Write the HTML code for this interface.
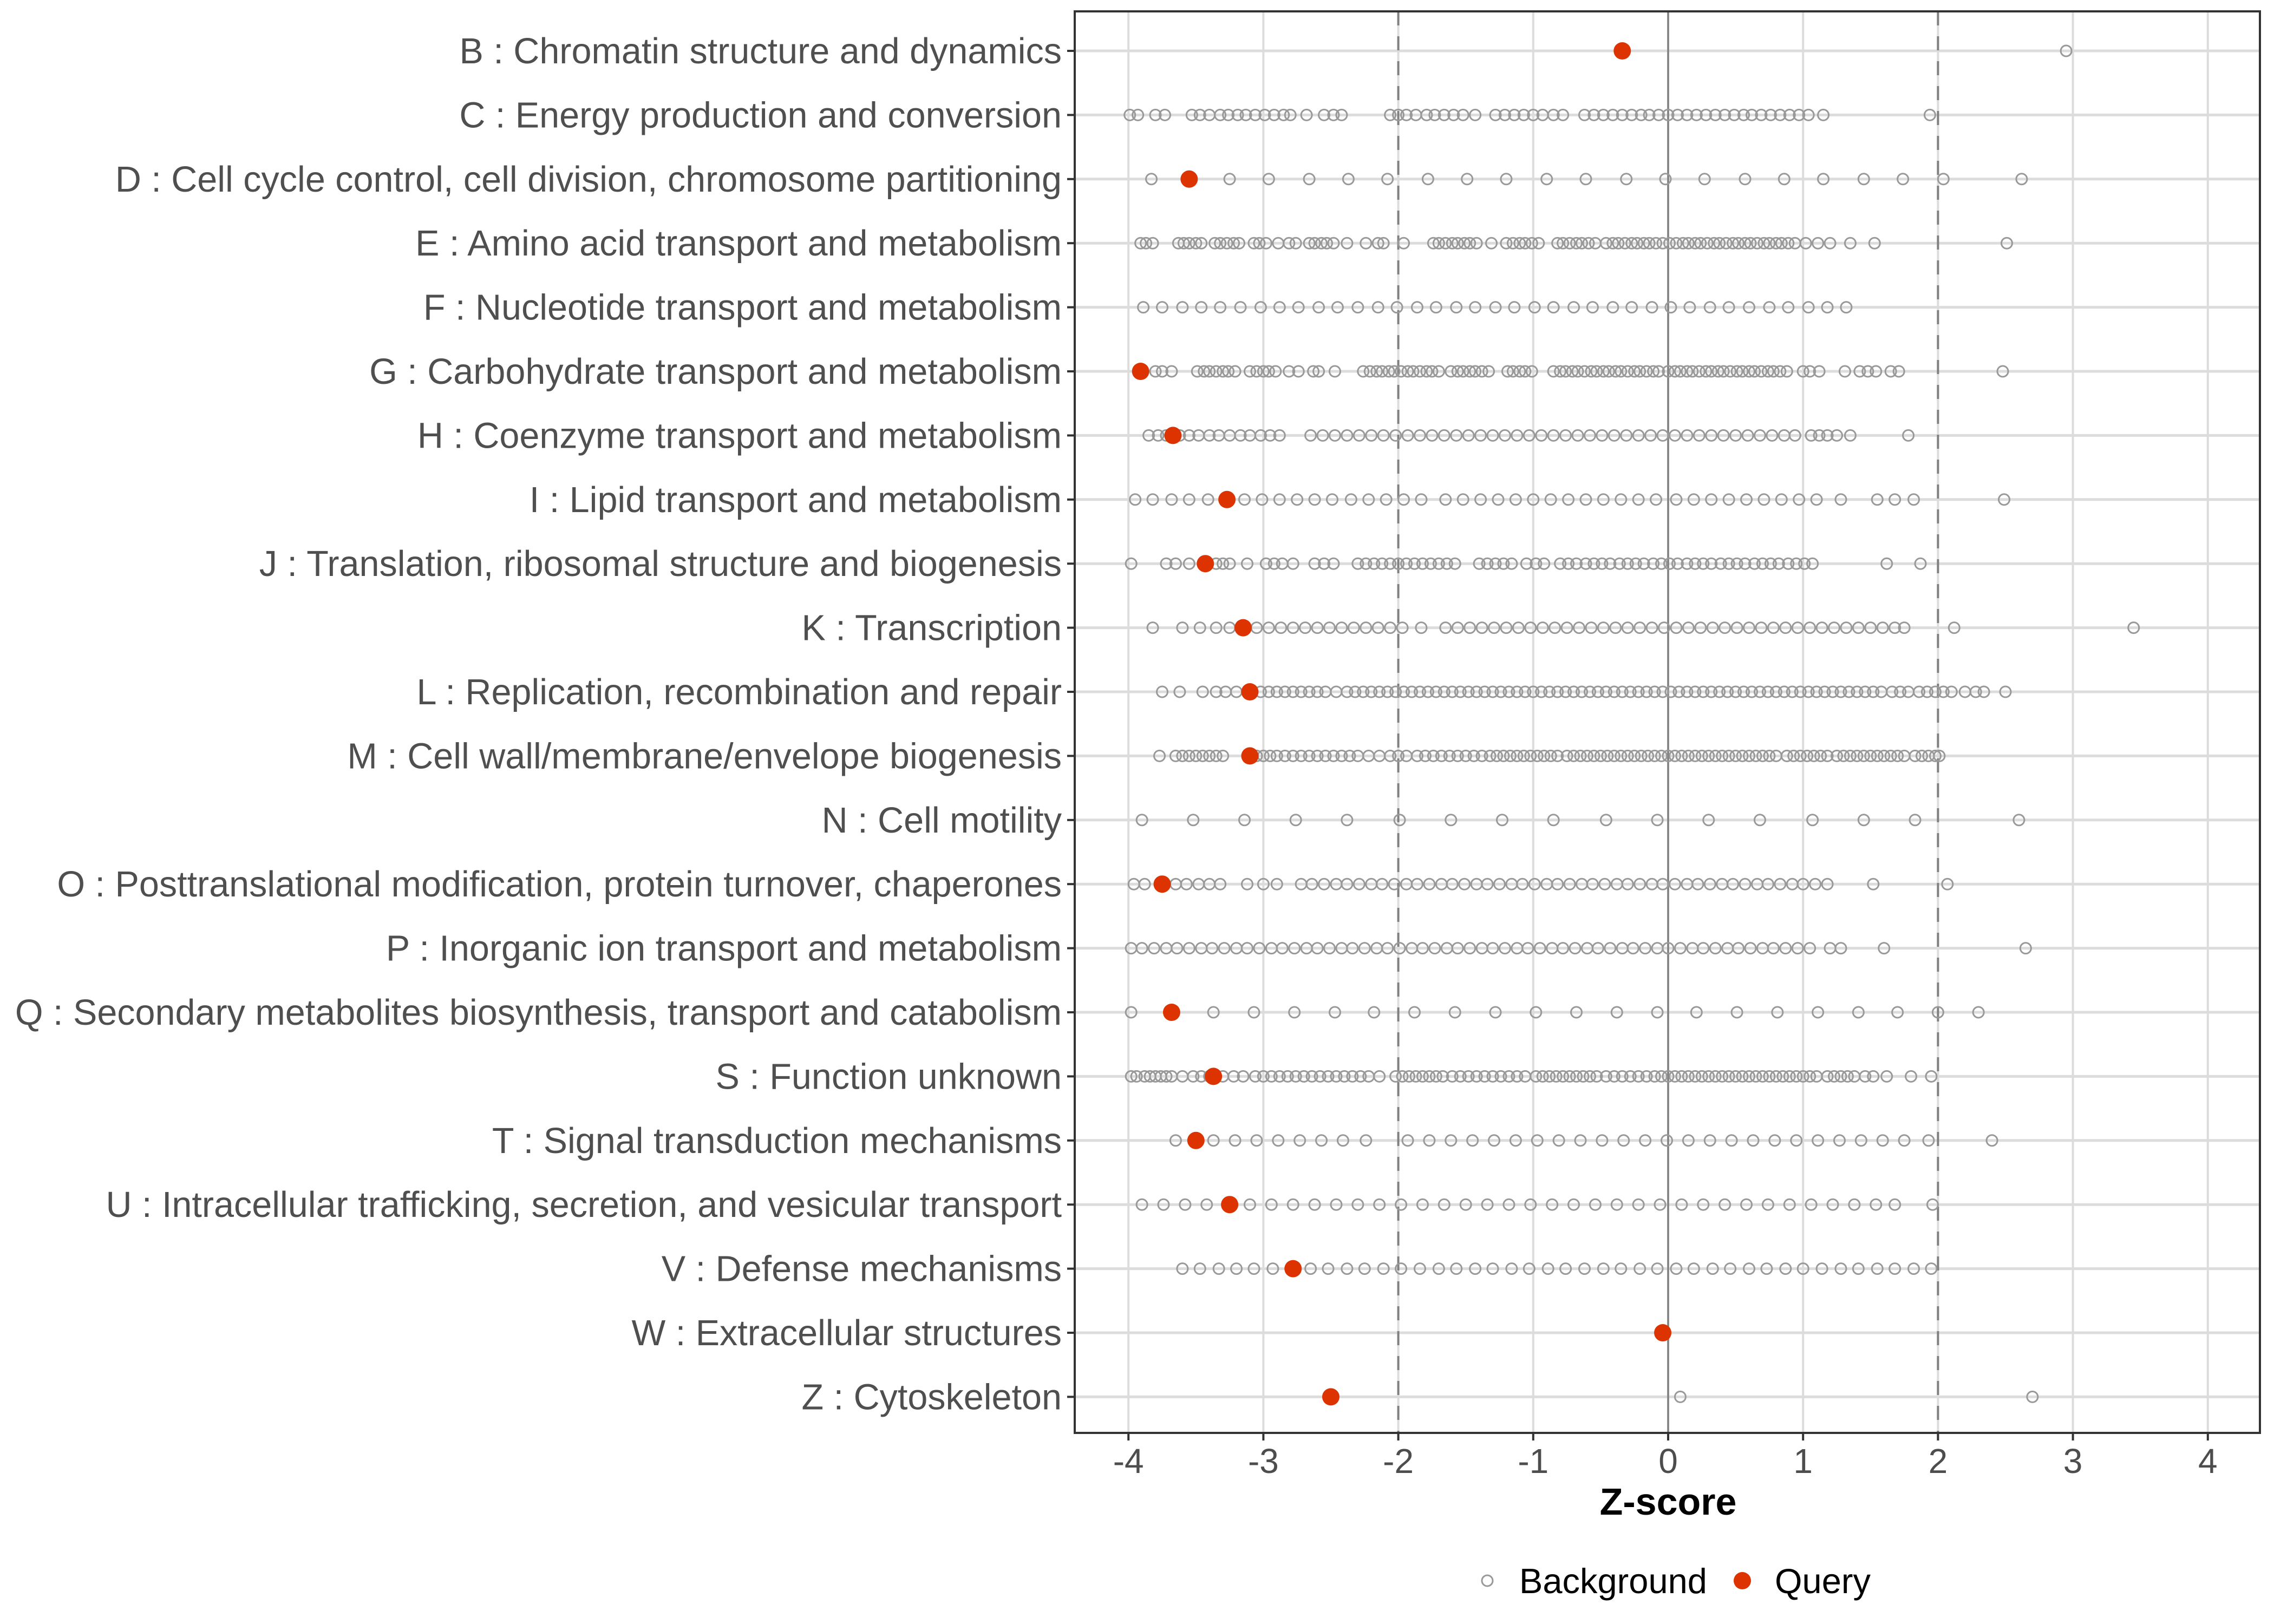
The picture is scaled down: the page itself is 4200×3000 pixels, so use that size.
<!DOCTYPE html>
<html><head><meta charset="utf-8"><style>
html,body{margin:0;padding:0;background:#fff;}
svg{display:block;font-family:"Liberation Sans",sans-serif;}
</style></head><body>
<svg id="chart" width="4200" height="3000" viewBox="0 0 4200 3000" xmlns="http://www.w3.org/2000/svg">
<rect x="0" y="0" width="4200" height="3000" fill="#fff"/>
<g id="grid"></g><g id="refs"></g><g id="pts"></g><g id="axes"></g>
<text x="3081" y="2798" text-anchor="middle" font-size="70" font-weight="bold" fill="#000">Z-score</text>
<g>
<circle cx="2747" cy="2920" r="10" fill="none" stroke="#999" stroke-width="3"/>
<text x="2806" y="2943" font-size="65" fill="#000">Background</text>
<circle cx="3218" cy="2920" r="16" fill="#dd3300"/>
<text x="3278" y="2943" font-size="65" fill="#000">Query</text>
</g>
</svg>
<script>
const categories = ["B : Chromatin structure and dynamics","C : Energy production and conversion","D : Cell cycle control, cell division, chromosome partitioning","E : Amino acid transport and metabolism","F : Nucleotide transport and metabolism","G : Carbohydrate transport and metabolism","H : Coenzyme transport and metabolism","I : Lipid transport and metabolism","J : Translation, ribosomal structure and biogenesis","K : Transcription","L : Replication, recombination and repair","M : Cell wall/membrane/envelope biogenesis","N : Cell motility","O : Posttranslational modification, protein turnover, chaperones","P : Inorganic ion transport and metabolism","Q : Secondary metabolites biosynthesis, transport and catabolism","S : Function unknown","T : Signal transduction mechanisms","U : Intracellular trafficking, secretion, and vesicular transport","V : Defense mechanisms","W : Extracellular structures","Z : Cytoskeleton"];
const xTicks = [-4,-3,-2,-1,0,1,2,3,4];
const xTickLabels = ["-4","-3","-2","-1","0","1","2","3","4"];
const queryCats = ["B","D","G","H","I","J","K","L","M","O","Q","S","T","U","V","W","Z"];
const queryValues = [-0.34,-3.55,-3.91,-3.67,-3.27,-3.43,-3.15,-3.10,-3.10,-3.75,-3.68,-3.37,-3.50,-3.25,-2.78,-0.04,-2.50];
const bgB = [2.95];
const bgC = [-3.99,-3.93,-3.80,-3.73,-3.53,-3.47,-3.40,-3.32,-3.26,-3.19,-3.13,-3.06,-2.99,-2.92,-2.85,-2.80,-2.68,-2.55,-2.48,-2.42,-2.06,-2.00,-1.94,-1.87,-1.79,-1.73,-1.66,-1.59,-1.52,-1.43,-1.28,-1.21,-1.14,-1.07,-1.00,-0.93,-0.85,-0.78,-0.62,-0.55,-0.48,-0.41,-0.34,-0.27,-0.20,-0.14,-0.07,0.00,0.07,0.14,0.21,0.28,0.35,0.42,0.49,0.56,0.62,0.69,0.76,0.83,0.90,0.97,1.04,1.15,1.94];
const bgD = [-3.83,-3.25,-2.96,-2.66,-2.37,-2.08,-1.78,-1.49,-1.20,-0.90,-0.61,-0.31,-0.02,0.27,0.57,0.86,1.15,1.45,1.74,2.04,2.62];
const bgE = [-3.91,-3.87,-3.82,-3.63,-3.59,-3.55,-3.50,-3.46,-3.36,-3.32,-3.27,-3.22,-3.18,-3.07,-3.03,-2.98,-2.89,-2.81,-2.76,-2.66,-2.62,-2.57,-2.53,-2.48,-2.38,-2.24,-2.15,-2.11,-1.96,-1.74,-1.70,-1.65,-1.60,-1.56,-1.51,-1.47,-1.42,-1.31,-1.20,-1.15,-1.10,-1.06,-1.01,-0.96,-0.82,-0.78,-0.73,-0.68,-0.64,-0.59,-0.54,-0.46,-0.41,-0.37,-0.32,-0.27,-0.23,-0.18,-0.14,-0.09,-0.04,0.01,0.06,0.11,0.15,0.20,0.24,0.29,0.34,0.38,0.43,0.48,0.52,0.57,0.61,0.66,0.71,0.75,0.80,0.84,0.89,0.94,1.02,1.11,1.20,1.35,1.53,2.51];
const bgF = [-3.89,-3.75,-3.60,-3.46,-3.32,-3.17,-3.02,-2.88,-2.74,-2.59,-2.45,-2.30,-2.15,-2.01,-1.86,-1.72,-1.57,-1.43,-1.28,-1.14,-0.99,-0.85,-0.70,-0.56,-0.41,-0.27,-0.12,0.02,0.16,0.31,0.45,0.60,0.75,0.89,1.04,1.18,1.32];
const bgG = [-3.80,-3.75,-3.68,-3.49,-3.44,-3.40,-3.35,-3.30,-3.26,-3.21,-3.10,-3.05,-3.00,-2.96,-2.91,-2.81,-2.74,-2.63,-2.59,-2.47,-2.26,-2.21,-2.16,-2.12,-2.07,-2.03,-1.98,-1.93,-1.89,-1.84,-1.79,-1.75,-1.70,-1.61,-1.56,-1.52,-1.47,-1.43,-1.38,-1.33,-1.19,-1.15,-1.10,-1.06,-1.01,-0.85,-0.80,-0.76,-0.71,-0.67,-0.62,-0.57,-0.53,-0.48,-0.44,-0.39,-0.35,-0.30,-0.25,-0.21,-0.16,-0.11,-0.07,0.00,0.05,0.09,0.14,0.18,0.23,0.28,0.32,0.37,0.41,0.46,0.51,0.55,0.60,0.64,0.69,0.74,0.78,0.83,0.88,1.00,1.05,1.12,1.31,1.42,1.48,1.54,1.65,1.71,2.48];
const bgH = [-3.85,-3.78,-3.72,-3.62,-3.55,-3.48,-3.40,-3.33,-3.25,-3.17,-3.10,-3.02,-2.95,-2.88,-2.65,-2.56,-2.47,-2.38,-2.29,-2.20,-2.11,-2.02,-1.93,-1.84,-1.75,-1.66,-1.57,-1.48,-1.39,-1.30,-1.21,-1.12,-1.03,-0.94,-0.85,-0.76,-0.67,-0.58,-0.49,-0.40,-0.31,-0.22,-0.13,-0.04,0.05,0.14,0.23,0.32,0.41,0.50,0.59,0.68,0.77,0.86,0.94,1.06,1.12,1.18,1.25,1.35,1.78];
const bgI = [-3.95,-3.82,-3.68,-3.55,-3.41,-3.14,-3.01,-2.88,-2.75,-2.62,-2.49,-2.35,-2.22,-2.09,-1.96,-1.83,-1.65,-1.52,-1.39,-1.26,-1.13,-1.00,-0.87,-0.74,-0.61,-0.48,-0.35,-0.22,-0.09,0.06,0.19,0.32,0.45,0.58,0.71,0.84,0.97,1.10,1.28,1.55,1.68,1.82,2.49];
const bgJ = [-3.98,-3.72,-3.65,-3.55,-3.35,-3.30,-3.25,-3.12,-2.98,-2.92,-2.86,-2.78,-2.62,-2.55,-2.48,-2.30,-2.24,-2.18,-2.12,-2.06,-2.00,-1.94,-1.88,-1.82,-1.76,-1.70,-1.64,-1.58,-1.40,-1.34,-1.28,-1.22,-1.16,-1.05,-0.98,-0.92,-0.80,-0.74,-0.68,-0.61,-0.55,-0.49,-0.43,-0.36,-0.30,-0.24,-0.18,-0.11,-0.05,0.01,0.07,0.14,0.20,0.26,0.32,0.39,0.45,0.51,0.57,0.64,0.70,0.76,0.82,0.89,0.95,1.01,1.07,1.62,1.87];
const bgK = [-3.82,-3.60,-3.47,-3.35,-3.25,-3.05,-2.96,-2.87,-2.78,-2.69,-2.60,-2.51,-2.42,-2.33,-2.24,-2.15,-2.06,-1.97,-1.83,-1.65,-1.56,-1.47,-1.38,-1.29,-1.20,-1.11,-1.02,-0.93,-0.84,-0.75,-0.66,-0.57,-0.48,-0.39,-0.30,-0.21,-0.12,-0.03,0.06,0.15,0.24,0.33,0.42,0.51,0.60,0.69,0.78,0.87,0.96,1.05,1.14,1.23,1.32,1.41,1.50,1.59,1.68,1.75,2.12,3.45];
const bgL = [-3.75,-3.62,-3.45,-3.35,-3.28,-3.20,-3.02,-2.96,-2.90,-2.84,-2.78,-2.72,-2.66,-2.60,-2.54,-2.46,-2.38,-2.32,-2.26,-2.20,-2.14,-2.08,-2.02,-1.96,-1.90,-1.84,-1.78,-1.72,-1.66,-1.60,-1.54,-1.48,-1.42,-1.36,-1.30,-1.24,-1.18,-1.12,-1.06,-1.00,-0.94,-0.88,-0.82,-0.76,-0.70,-0.64,-0.58,-0.52,-0.46,-0.40,-0.34,-0.28,-0.22,-0.16,-0.10,-0.04,0.02,0.08,0.14,0.20,0.26,0.32,0.38,0.44,0.50,0.56,0.62,0.68,0.74,0.80,0.86,0.92,0.98,1.04,1.10,1.16,1.22,1.28,1.34,1.40,1.46,1.52,1.58,1.66,1.72,1.78,1.86,1.92,1.98,2.04,2.10,2.20,2.28,2.34,2.50];
const bgM = [-3.77,-3.65,-3.60,-3.55,-3.50,-3.45,-3.40,-3.35,-3.30,-3.05,-3.00,-2.95,-2.90,-2.84,-2.78,-2.72,-2.66,-2.60,-2.54,-2.48,-2.42,-2.36,-2.30,-2.22,-2.14,-2.06,-2.00,-1.94,-1.86,-1.80,-1.74,-1.68,-1.62,-1.56,-1.50,-1.44,-1.38,-1.32,-1.27,-1.22,-1.17,-1.12,-1.07,-1.02,-0.97,-0.92,-0.87,-0.82,-0.75,-0.70,-0.65,-0.60,-0.55,-0.50,-0.45,-0.40,-0.35,-0.30,-0.25,-0.20,-0.15,-0.10,-0.05,0.00,0.05,0.10,0.15,0.20,0.25,0.30,0.35,0.40,0.45,0.50,0.55,0.60,0.65,0.70,0.75,0.80,0.88,0.93,0.98,1.03,1.08,1.13,1.18,1.25,1.30,1.35,1.40,1.45,1.50,1.55,1.60,1.65,1.70,1.75,1.83,1.88,1.93,1.98,2.01];
const bgN = [-3.90,-3.52,-3.14,-2.76,-2.38,-1.99,-1.61,-1.23,-0.85,-0.46,-0.08,0.30,0.68,1.07,1.45,1.83,2.60];
const bgO = [-3.96,-3.88,-3.65,-3.57,-3.48,-3.40,-3.32,-3.12,-3.00,-2.90,-2.72,-2.64,-2.55,-2.46,-2.38,-2.29,-2.20,-2.12,-2.03,-1.94,-1.86,-1.77,-1.68,-1.60,-1.51,-1.42,-1.34,-1.25,-1.16,-1.08,-0.99,-0.90,-0.82,-0.73,-0.64,-0.56,-0.47,-0.38,-0.30,-0.21,-0.12,-0.04,0.05,0.14,0.22,0.31,0.40,0.48,0.57,0.66,0.74,0.83,0.92,1.00,1.09,1.18,1.52,2.07];
const bgP = [-3.98,-3.90,-3.81,-3.72,-3.64,-3.55,-3.46,-3.38,-3.29,-3.20,-3.12,-3.03,-2.94,-2.86,-2.77,-2.68,-2.60,-2.51,-2.42,-2.34,-2.25,-2.16,-2.08,-1.99,-1.90,-1.82,-1.73,-1.64,-1.56,-1.47,-1.38,-1.30,-1.21,-1.12,-1.04,-0.95,-0.86,-0.78,-0.69,-0.60,-0.52,-0.43,-0.34,-0.26,-0.17,-0.08,0.00,0.09,0.18,0.26,0.35,0.44,0.52,0.61,0.70,0.78,0.87,0.96,1.05,1.20,1.28,1.60,2.65];
const bgQ = [-3.98,-3.37,-3.07,-2.77,-2.47,-2.18,-1.88,-1.58,-1.28,-0.98,-0.68,-0.38,-0.08,0.21,0.51,0.81,1.11,1.41,1.70,2.00,2.30];
const bgS = [-3.98,-3.94,-3.88,-3.84,-3.80,-3.76,-3.72,-3.68,-3.60,-3.52,-3.46,-3.40,-3.30,-3.22,-3.15,-3.06,-3.00,-2.94,-2.88,-2.82,-2.76,-2.70,-2.64,-2.58,-2.52,-2.46,-2.40,-2.34,-2.28,-2.22,-2.14,-2.02,-1.97,-1.92,-1.87,-1.82,-1.77,-1.72,-1.67,-1.60,-1.54,-1.48,-1.42,-1.36,-1.30,-1.24,-1.18,-1.12,-1.06,-0.98,-0.93,-0.88,-0.83,-0.78,-0.73,-0.68,-0.63,-0.58,-0.53,-0.46,-0.40,-0.34,-0.28,-0.22,-0.16,-0.10,-0.05,0.00,0.05,0.10,0.15,0.20,0.25,0.30,0.35,0.40,0.45,0.50,0.55,0.60,0.65,0.70,0.75,0.80,0.85,0.90,0.95,1.00,1.05,1.10,1.18,1.23,1.28,1.33,1.38,1.46,1.52,1.62,1.80,1.95];
const bgT = [-3.65,-3.37,-3.21,-3.05,-2.89,-2.73,-2.57,-2.41,-2.24,-1.93,-1.77,-1.61,-1.45,-1.29,-1.13,-0.97,-0.81,-0.65,-0.49,-0.33,-0.17,-0.01,0.15,0.31,0.47,0.63,0.79,0.95,1.11,1.27,1.43,1.59,1.75,1.93,2.40];
const bgU = [-3.90,-3.74,-3.58,-3.42,-3.10,-2.94,-2.78,-2.62,-2.46,-2.30,-2.14,-1.98,-1.82,-1.66,-1.50,-1.34,-1.18,-1.02,-0.86,-0.70,-0.54,-0.38,-0.22,-0.06,0.10,0.26,0.42,0.58,0.74,0.90,1.06,1.22,1.38,1.54,1.68,1.96];
const bgV = [-3.60,-3.47,-3.33,-3.20,-3.07,-2.93,-2.65,-2.52,-2.38,-2.25,-2.11,-1.98,-1.84,-1.70,-1.57,-1.43,-1.30,-1.16,-1.03,-0.89,-0.76,-0.62,-0.48,-0.35,-0.21,-0.08,0.06,0.19,0.33,0.46,0.60,0.73,0.87,1.00,1.14,1.28,1.41,1.55,1.68,1.82,1.95];
const bgW = [-0.04];
const bgZ = [0.09,2.70];
const backgroundSeries = [bgB,bgC,bgD,bgE,bgF,bgG,bgH,bgI,bgJ,bgK,bgL,bgM,bgN,bgO,bgP,bgQ,bgS,bgT,bgU,bgV,bgW,bgZ];

const NS="http://www.w3.org/2000/svg";
const PL=1985, PR=4174, PT=21, PB=2647;
const X0=3081, UNIT=249.2, Y0=94, DY=118.4;
function xScale(v){return X0+v*UNIT;}
function yScale(i){return Y0+i*DY;}
function mk(tag,attrs,parent){const e=document.createElementNS(NS,tag);for(const k in attrs)e.setAttribute(k,attrs[k]);parent.appendChild(e);return e;}
const grid=document.getElementById('grid'),refs=document.getElementById('refs'),pts=document.getElementById('pts'),axes=document.getElementById('axes');
mk('rect',{x:PL,y:PT,width:PR-PL,height:PB-PT,fill:'#fff'},grid);
xTicks.forEach((t,i)=>{
  const l=mk('line',{x1:xScale(t),x2:xScale(t),y1:PT,y2:PB,stroke:'#dcdcdc','stroke-width':4},grid);
  
  
  const tk=mk('line',{x1:xScale(t),x2:xScale(t),y1:PB,y2:PB+14,stroke:'#333','stroke-width':4},axes);
  
  
  const tx=mk('text',{x:xScale(t),y:2721,'text-anchor':'middle','font-size':64,fill:'#4d4d4d'},axes);
  tx.textContent=xTickLabels[i];
  
  
});
categories.forEach((c,i)=>{
  const l=mk('line',{x1:PL,x2:PR,y1:yScale(i),y2:yScale(i),stroke:'#dcdcdc','stroke-width':5},grid);
  
  
  const tk=mk('line',{x1:PL-14,x2:PL,y1:yScale(i),y2:yScale(i),stroke:'#333','stroke-width':4},axes);
  
  
  const tx=mk('text',{x:1961,y:yScale(i)+23,'text-anchor':'end','font-size':66.5,fill:'#4f4f4f'},axes);
  tx.textContent=c;
  
  
});
const z=mk('line',{x1:xScale(0),x2:xScale(0),y1:PT,y2:PB,stroke:'#808080','stroke-width':3.5},refs);


[-2,2].forEach(v=>{
  const d=mk('line',{x1:xScale(v),x2:xScale(v),y1:PT,y2:PB,stroke:'#808080','stroke-width':4,'stroke-dasharray':'26 20'},refs);
  
  
});
backgroundSeries.forEach((arr,i)=>{
  arr.forEach(v=>{
    const c=mk('circle',{cx:xScale(v),cy:yScale(i),r:10,fill:'none',stroke:'#999','stroke-width':3},pts);
    
    
  });
});
const letters=categories.map(c=>c.split(' ')[0]);
queryCats.forEach((q,k)=>{
  const i=letters.indexOf(q);
  const c=mk('circle',{cx:xScale(queryValues[k]),cy:yScale(i),r:16,fill:'#dd3300'},pts);
  
  
});
const b=mk('rect',{x:PL,y:PT,width:PR-PL,height:PB-PT,fill:'none',stroke:'#333','stroke-width':4},axes);


</script>
</body></html>
